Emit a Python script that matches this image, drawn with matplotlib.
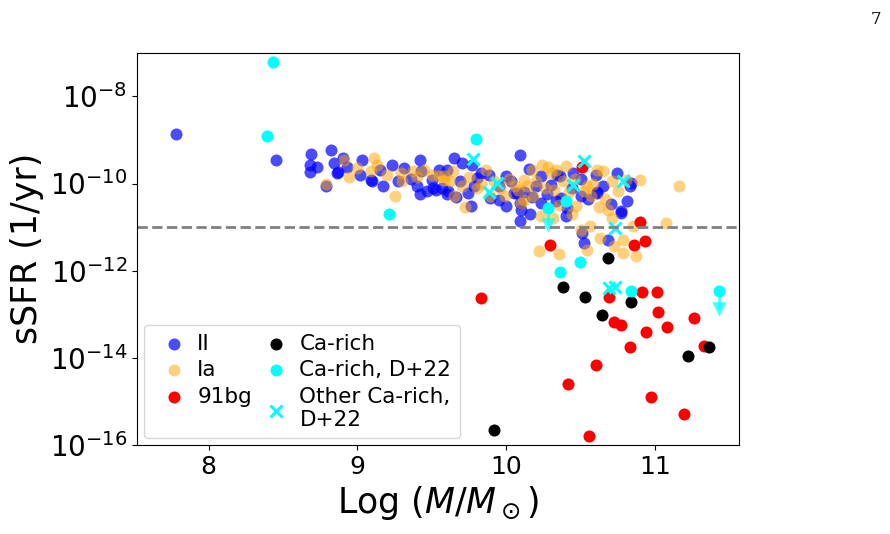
import numpy as np
import matplotlib
matplotlib.use('Agg')
import matplotlib.pyplot as plt

# log stellar mass, log sSFR
ii_mass = [7.78, 8.45, 8.69, 8.68, 8.68, 8.73, 8.82, 8.84, 8.87, 8.79, 8.93, 9.03, 9.02, 9.09,
           9.17, 9.23, 9.31, 9.42, 9.40, 9.42, 9.47, 9.51, 9.50, 9.43, 9.15, 8.90, 9.53, 9.60,
           9.10, 8.86, 9.65, 9.70, 9.77, 9.60, 9.57, 9.61, 9.69, 9.76, 9.80, 10.00, 10.09, 10.15,
           9.95, 10.09, 10.10, 10.17, 10.16, 10.23, 10.34, 10.40, 10.41, 10.50, 10.60, 10.61,
           10.74, 10.84, 10.70, 10.77, 10.81, 10.51, 10.52, 10.68, 9.89, 10.05, 10.83, 10.77,
           10.09, 10.30, 10.37, 9.74, 9.83, 10.00, 10.07, 10.23, 10.36, 10.45, 10.50, 10.61,
           9.78, 9.88, 9.95, 10.03, 10.12, 10.20, 10.27, 10.33, 10.44, 10.55, 10.65, 9.55,
           9.36, 9.27, 9.66]
ii_lssfr = [-8.86, -9.47, -9.32, -9.57, -9.74, -9.62, -9.22, -9.53, -9.74, -10.06, -9.61, -9.45,
            -9.80, -9.91, -10.06, -9.57, -9.64, -9.47, -10.06, -10.25, -10.18, -10.10, -9.91,
            -9.72, -9.70, -9.41, -10.14, -10.25, -9.95, -9.76, -9.41, -9.53, -9.57, -9.68,
            -10.10, -10.18, -9.95, -10.51, -9.87, -9.83, -9.34, -9.67, -10.37, -10.45, -10.60,
            -10.31, -10.71, -9.83, -9.80, -10.75, -10.56, -9.89, -9.80, -10.20, -9.76, -9.99,
            -10.48, -10.67, -10.41, -11.13, -11.36, -11.29, -10.33, -10.22, -10.06, -10.64,
            -10.87, -10.03, -10.33, -10.22, -9.76, -10.52, -10.22, -10.45, -9.83, -9.76, -10.29,
            -10.22, -10.05, -9.80, -10.05, -9.95, -10.20, -10.05, -10.25, -10.40, -10.10,
            -10.35, -10.05, -9.70, -9.90, -9.95, -10.30]

ia_mass = [8.91, 8.94, 9.11, 9.20, 9.25, 9.29, 9.30, 9.37, 9.45, 9.55, 8.79, 9.00, 9.13, 9.58,
           9.09, 9.58, 9.64, 9.65, 9.72, 9.86, 9.80, 9.89, 9.96, 10.06, 10.12, 10.24, 10.28,
           10.33, 10.23, 10.18, 10.32, 10.31, 10.22, 10.35, 10.47, 10.54, 10.57, 10.61, 10.65,
           10.71, 10.75, 10.80, 10.90, 11.16, 11.07, 10.85, 10.71, 10.63, 10.72, 10.78, 10.78,
           10.87, 10.54, 10.50, 10.56, 10.44, 10.12, 9.99, 9.92, 10.02, 10.08, 10.14, 10.20,
           10.26, 10.30, 10.38, 10.42, 10.46, 10.52, 10.58, 10.66, 9.70, 9.75, 9.83, 9.50, 9.40,
           9.62, 10.10, 10.35, 10.62, 10.68, 10.40, 10.17]
ia_lssfr = [-9.45, -9.85, -9.41, -9.80, -10.29, -9.76, -9.95, -9.72, -9.68, -9.83, -10.00, -9.64,
            -9.57, -9.91, -9.72, -9.83, -9.72, -10.29, -10.54, -9.68, -10.10, -10.29, -10.10,
            -10.06, -9.91, -9.57, -9.61, -9.68, -10.75, -10.29, -10.14, -10.79, -11.56, -11.61,
            -10.52, -10.06, -10.29, -9.68, -9.72, -9.95, -10.18, -9.91, -9.93, -10.05, -10.90,
            -10.98, -10.79, -11.25, -11.44, -11.29, -11.59, -11.67, -11.52, -11.06, -10.98,
            -10.71, -10.37, -10.29, -9.95, -9.90, -10.15, -10.05, -9.95, -10.10, -9.75, -9.95,
            -10.20, -9.90, -10.18, -10.00, -10.35, -10.05, -9.85, -10.00, -9.80, -9.85, -9.95,
            -10.45, -10.50, -10.55, -10.60, -9.60, -9.70]

bg_mass = [10.51, 10.90, 10.29, 10.86, 10.93, 9.83, 10.69, 10.91, 11.01, 11.02, 11.26, 10.72,
           10.77, 10.94, 11.08, 10.83, 11.33, 10.605, 10.415, 10.97, 11.19, 10.556]
bg_lssfr = [-9.63, -10.89, -11.42, -11.42, -11.33, -12.62, -12.60, -12.50, -12.49, -12.95,
            -13.08, -13.19, -13.25, -13.41, -13.30, -13.76, -13.72, -14.17, -14.61, -14.90,
            -15.30, -15.80]

ca_mass = [10.68, 10.378, 10.53, 10.64, 10.84, 11.22, 11.36, 9.914]
ca_lssfr = [-11.72, -12.37, -12.61, -13.01, -12.72, -13.96, -13.76, -15.65]

d22_mass = [8.43, 8.39, 9.215, 9.797, 10.277, 10.40, 10.497, 10.358, 10.84, 11.425]
d22_lssfr = [-7.20, -8.92, -10.70, -8.97, -10.56, -10.41, -11.80, -12.03, -12.47, -12.47]
d22_uplim = [False, False, False, False, True, False, False, False, False, True]

oth_mass = [9.774, 9.94, 9.886, 10.52, 10.45, 10.78, 10.73, 10.69, 10.73]
oth_lssfr = [-9.43, -9.99, -10.19, -9.49, -10.04, -9.95, -11.02, -12.41, -12.37]

cut = 1e-11

fig = plt.figure(figsize=(8.9, 5.34), dpi=100)
ax = fig.add_axes([0.154, 0.167, 0.676, 0.734])

ax.scatter(ii_mass, 10**np.array(ii_lssfr), s=75, color='blue', alpha=0.7, lw=0, label='II')
ax.scatter(ia_mass, 10**np.array(ia_lssfr), s=75, color='orange', alpha=0.5, lw=0, label='Ia')
ax.scatter(bg_mass, 10**np.array(bg_lssfr), s=75, color='red', lw=0, label='91bg')
ax.scatter(ca_mass, 10**np.array(ca_lssfr), s=75, color='black', lw=0, label='Ca-rich')
ax.scatter(d22_mass, 10**np.array(d22_lssfr), s=75, color='cyan', lw=0, label='Ca-rich, D+22')
ax.scatter(oth_mass, 10**np.array(oth_lssfr), s=75, color='cyan', marker='x', lw=2.2,
           label='Other Ca-rich,\nD+22')

# upper limits as downward arrows
for m, l, up in zip(d22_mass, d22_lssfr, d22_uplim):
    if up:
        ax.vlines(m, 10**(l - 0.4), 10**l, color='cyan', alpha=0.7, lw=2)
        ax.scatter([m], [10**(l - 0.4)], marker='v', s=110, color='cyan', alpha=0.7, lw=0)

ax.axhline(cut, color='gray', ls='--', lw=2)

ax.set_yscale('log')
ax.set_xlim(7.52, 11.56)
ax.set_ylim(1e-16, 1e-7)
ax.set_xticks([8, 9, 10, 11])
ax.set_yticks([1e-16, 1e-14, 1e-12, 1e-10, 1e-8])
ax.minorticks_off()
ax.tick_params(axis='x', labelsize=18)
ax.tick_params(axis='y', labelsize=20)
ax.set_xlabel(r'Log ($M/M_\odot$)', fontsize=25)
ax.set_ylabel('sSFR (1/yr)', fontsize=25)

ax.legend(loc='lower left', ncol=2, fontsize=15.5, handletextpad=0.1, columnspacing=0.1,
          labelspacing=0.3, borderpad=0.4, borderaxespad=0.3)

fig.text(0.99, 0.955, '7', fontsize=12, family='serif', ha='right')

fig.savefig('out.png', dpi=100)
